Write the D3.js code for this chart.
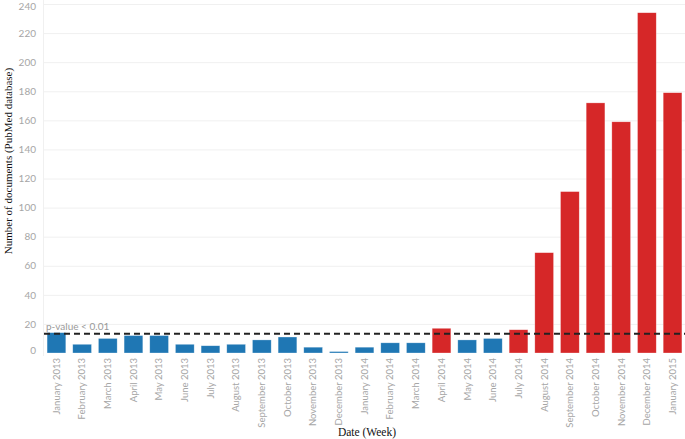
<!DOCTYPE html>
<html>
<head>
<meta charset="utf-8">
<script src="https://cdn.jsdelivr.net/npm/d3@7"></script>
<style>
  body { margin: 0; background: #fff; }
  .axis text { font-family: Lato, "Open Sans", sans-serif; fill: #a6a6a6; }
  .axis path, .axis line { stroke: none; }
</style>
</head>
<body>
<div class="chart"></div>
<script>
(function () {
  var months = [
    'January 2013', 'February 2013', 'March 2013', 'April 2013', 'May 2013',
    'June 2013', 'July 2013', 'August 2013', 'September 2013', 'October 2013',
    'November 2013', 'December 2013', 'January 2014', 'February 2014', 'March 2014',
    'April 2014', 'May 2014', 'June 2014', 'July 2014', 'August 2014',
    'September 2014', 'October 2014', 'November 2014', 'December 2014', 'January 2015'
  ];
  var counts = [14, 6, 10, 12, 12, 6, 5, 6, 9, 11, 4, 1, 4, 7, 7, 17, 9, 10, 16, 69, 111, 172, 159, 234, 179];
  // months flagged as significant (p-value < 0.01)
  var significant = [0, 0, 0, 0, 0, 0, 0, 0, 0, 0, 0, 0, 0, 0, 0, 1, 0, 0, 1, 1, 1, 1, 1, 1, 1];
  var threshold = 13.3;
  var yTicks = [0, 20, 40, 60, 80, 100, 120, 140, 160, 180, 200, 220, 240];

  var svg = d3.select('.chart').append('svg')
    .attr('width', 685)
    .attr('height', 439);

  var x = d3.scaleBand()
    .domain(months)
    .range([44, 685])
    .paddingInner(0.27)
    .paddingOuter(0.12);
  var y = d3.scaleLinear()
    .domain([0, 240])
    .range([353, 4]);

  // gridlines
  svg.append('g')
      .attr('class', 'grid')
    .selectAll('line')
    .data(yTicks.slice(1))
    .enter().append('line')
      .attr('x1', 44)
      .attr('x2', 685)
      .attr('y1', function (d) { return y(d) + 0.5; })
      .attr('y2', function (d) { return y(d) + 0.5; })
      .attr('stroke', '#f0f0f0')
      .attr('stroke-width', 1);
  svg.append('line')
    .attr('x1', 43.5)
    .attr('x2', 43.5)
    .attr('y1', 0)
    .attr('y2', 356)
    .attr('stroke', '#f0f0f0');

  // axis
  var axisLeft = d3.axisLeft(y)
    .tickValues(yTicks)
    .tickSize(0)
    .tickPadding(4);
  svg.append('g')
      .attr('class', 'axis axis--y')
      .attr('transform', 'translate(40,0)')
      .call(axisLeft)
      .selectAll('text')
      .attr('font-size', '10px')
      .attr('dy', function (d) {
        if (d === 0) return '0';
        if (d === 240) return '0.55em';
        return '0.32em';
      });

  var axisBottom = d3.axisBottom(x).tickSize(0);
  svg.append('g')
      .attr('class', 'axis axis--x')
      .attr('transform', 'translate(0,356)')
      .call(axisBottom)
      .selectAll('text')
      .attr('font-size', '9.5px')
      .attr('transform', 'rotate(-90)')
      .attr('x', -2)
      .attr('y', 0)
      .attr('dy', '0.35em')
      .style('text-anchor', 'end');

  // bars
  svg.append('g')
      .attr('class', 'bars')
    .selectAll('rect')
    .data(counts)
    .enter().append('rect')
      .attr('x', function (d, i) { return x(months[i]); })
      .attr('y', function (d) { return y(d); })
      .attr('width', x.bandwidth())
      .attr('height', function (d) { return y(0) - y(d); })
      .attr('fill', function (d, i) { return significant[i] ? '#d62728' : '#1f77b4'; })
      .attr('stroke', 'rgba(255,255,255,0.5)')
      .attr('stroke-width', 0.6);

  // threshold line
  svg.append('line')
    .attr('x1', 44)
    .attr('x2', 685)
    .attr('y1', y(threshold))
    .attr('y2', y(threshold))
    .attr('stroke', '#222')
    .attr('stroke-width', 2)
    .attr('stroke-dasharray', '6, 4');
  svg.append('text')
    .attr('x', 46)
    .attr('y', y(threshold) - 4)
    .attr('font-family', 'Lato, "Open Sans", sans-serif')
    .attr('font-size', '10px')
    .attr('fill', '#999')
    .text('p-value < 0.01');

  // labels
  svg.append('text')
    .attr('transform', 'rotate(-90)')
    .attr('x', -161)
    .attr('y', 12)
    .attr('font-family', '"Liberation Serif", "DejaVu Serif", serif')
    .attr('font-size', '11px')
    .attr('fill', '#111')
    .style('text-anchor', 'middle')
    .text('Number of documents (PubMed database)');
  svg.append('text')
    .attr('x', 367)
    .attr('y', 436)
    .attr('font-family', '"Liberation Serif", "DejaVu Serif", serif')
    .attr('font-size', '11.5px')
    .attr('fill', '#111')
    .style('text-anchor', 'middle')
    .text('Date (Week)');
})();
</script>
</body>
</html>
